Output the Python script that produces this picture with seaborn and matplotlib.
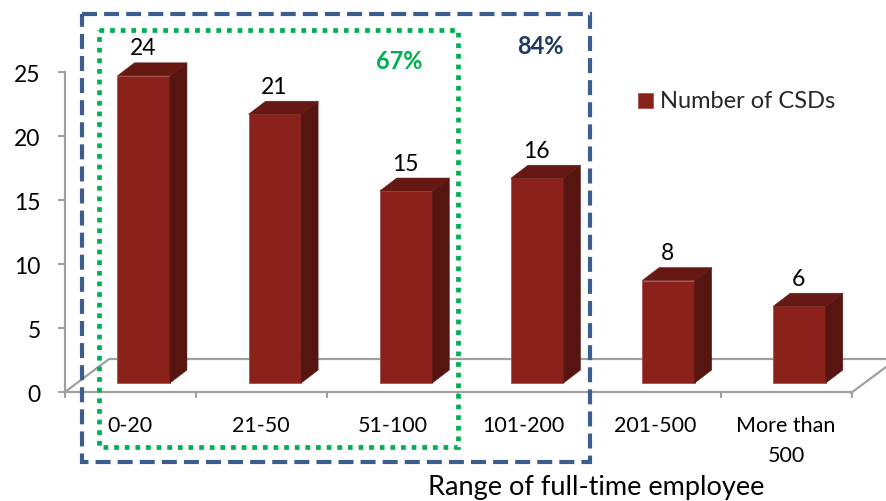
import matplotlib
matplotlib.use("Agg")
import matplotlib.pyplot as plt
import pandas as pd
import seaborn as sns
from matplotlib.patches import Polygon, Rectangle
from matplotlib.transforms import Affine2D

# Chart values
categories = ["0-20", "21-50", "51-100", "101-200", "201-500", "More than\n500"]
csd_counts = [24, 21, 15, 16, 8, 6]
y_ticks = [0, 5, 10, 15, 20, 25]
series_name = "Number of CSDs"
x_title = "Range of full-time employee"
inner_share = "67%"
outer_share = "84%"

W, H = 886, 501
GRAY = "#a0a0a0"
FRONT = "#8a211b"
SIDE = "#561510"
TOP = "#661813"
BLUE = "#3b5e8f"
GREEN = "#00b050"

sns.set_theme(style="white")
plt.rcParams["font.family"] = ["Lato", "DejaVu Sans"]

df = pd.DataFrame({"range": categories, "count": csd_counts})

fig = plt.figure(figsize=(W / 100, H / 100), dpi=100)
ax = fig.add_axes([65 / W, 1 - 392 / H, 787 / W, 320 / H])

# pixels measured from the top left of the picture
pix = Affine2D().scale(1, -1).translate(0, H)

BASE = 0.7       # bars stand a little behind the front edge of the floor
SHIFT = 0.1
DX, DY = 17 / 131.2, 13 / 12.8

sns.barplot(data=df, x="range", y="count", color=FRONT, saturation=1, width=0.4,
            bottom=BASE, label=series_name, ax=ax, zorder=2,
            edgecolor="#a5524c", linewidth=0.6)
ax.set_xlim(-0.5, 5.5)
ax.set_ylim(0, 25)

for p, val in zip(ax.patches, csd_counts):
    p.set_x(p.get_x() + SHIFT)
    x0, x1 = p.get_x(), p.get_x() + p.get_width()
    y0, y1 = p.get_y(), p.get_y() + p.get_height()
    ax.add_patch(Polygon([(x1, y0), (x1 + DX, y0 + DY), (x1 + DX, y1 + DY), (x1, y1)],
                         facecolor=SIDE, edgecolor=SIDE, lw=0.4, clip_on=False, zorder=2))
    ax.add_patch(Polygon([(x0, y1), (x0 + DX, y1 + DY), (x1 + DX, y1 + DY), (x1, y1)],
                         facecolor=TOP, edgecolor=TOP, lw=0.4, clip_on=False, zorder=2))
    ax.annotate(str(val), ((x0 + x1) / 2, y1 + DY), xytext=(-0.7, 2.5), textcoords="offset points",
                ha="center", va="bottom", fontsize=16.5, color="black", annotation_clip=False)

# floor of the 3D box
ax.plot([65, 109, 886], [392, 359, 359], color=GRAY, lw=1.6, transform=pix, clip_on=False, zorder=1)
ax.plot([851, 886], [393, 367], color=GRAY, lw=1.6, transform=pix, clip_on=False, zorder=1)

for side in ["top", "right"]:
    ax.spines[side].set_visible(False)
for side in ["left", "bottom"]:
    ax.spines[side].set_color(GRAY)
    ax.spines[side].set_linewidth(1.6)

ax.set_yticks(y_ticks)
ax.set_xticks([i - 0.5 for i in range(len(categories) + 1)], minor=True)
ax.tick_params(axis="y", left=True, length=5, width=1.4, color=GRAY, labelsize=16.5, pad=12.5, labelcolor="black")
ax.tick_params(axis="x", which="major", bottom=False, length=0, labelsize=15.5, pad=17.5, labelcolor="black")
ax.tick_params(axis="x", which="minor", bottom=True, length=4.5, width=1.4, color=GRAY)
ax.set_xlabel("")
ax.set_ylabel("")

fig.canvas.draw()
for lbl in ax.get_xticklabels():
    lbl.set_linespacing(1.6)
    lbl.set_transform(lbl.get_transform() + Affine2D().translate(-0.5, 0))
for lbl in ax.get_yticklabels():
    lbl.set_transform(lbl.get_transform() + Affine2D().translate(0, -2))

ax.legend(loc="center left", bbox_to_anchor=(617 / W, 1 - 102 / H), bbox_transform=fig.transFigure,
          frameon=False, fontsize=17, handlelength=0.62, handleheight=0.62, handletextpad=0.3)

# highlight boxes
fig.add_artist(Rectangle((82, 14), 508, 448, transform=pix, fill=False, edgecolor=BLUE,
                         lw=3, linestyle=(0, (3.6, 1.7)), zorder=5))
fig.add_artist(Rectangle((99, 30), 359, 417, transform=pix, fill=False, edgecolor=GREEN,
                         lw=3.4, linestyle=(0, (1, 1.25)), zorder=6))

fig.text(399 / W, 1 - 62 / H, inner_share, color=GREEN, fontsize=17, fontweight="bold", ha="center", va="center")
fig.text(540 / W, 1 - 46 / H, outer_share, color="#1f3864", fontsize=17, fontweight="bold", ha="center", va="center")
fig.text(596 / W, 1 - 488 / H, x_title, color="black", fontsize=19.5, ha="center", va="center")

fig.savefig("out.png", dpi=100, facecolor="white")
